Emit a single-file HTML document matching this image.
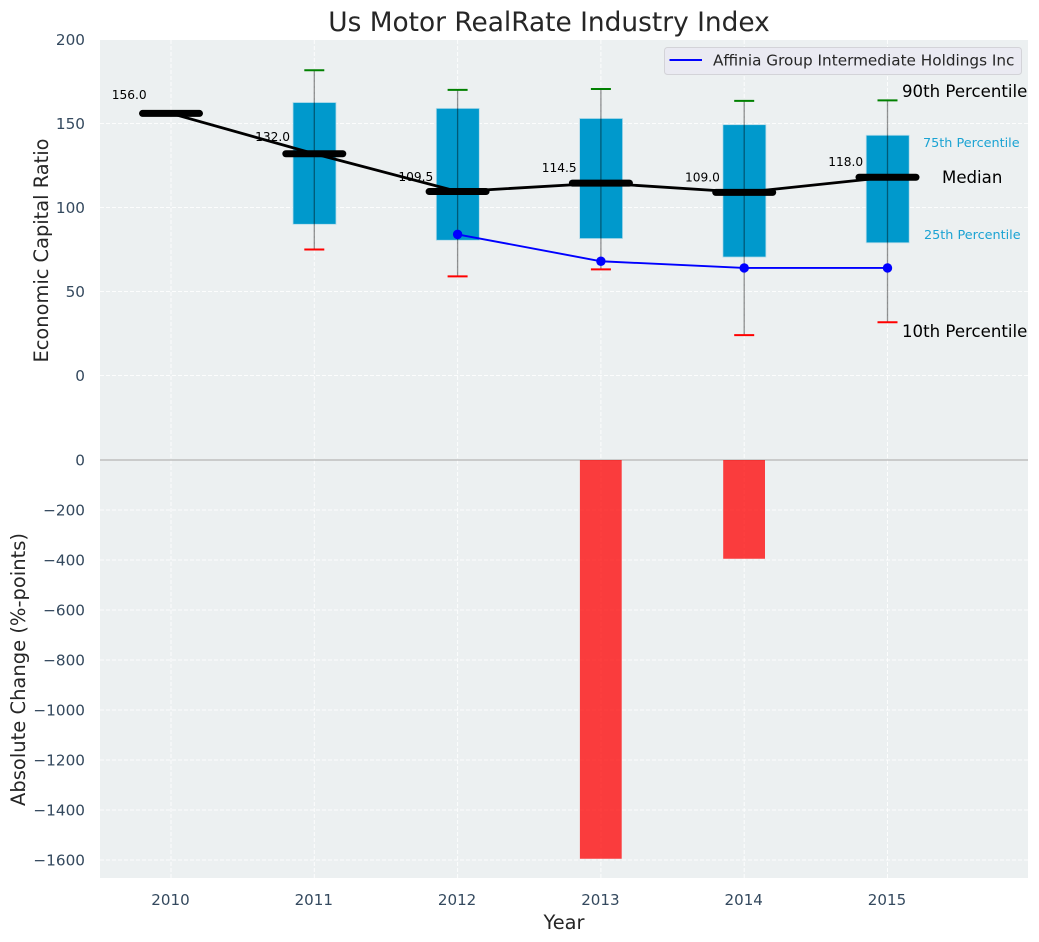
<!DOCTYPE html>
<html>
<head>
<meta charset="utf-8">
<title>Us Motor RealRate Industry Index</title>
<style>
html,body{margin:0;padding:0;background:#fff;width:1039px;height:942px;overflow:hidden}
svg{display:block}
text{font-family:"DejaVu Sans","Liberation Sans",sans-serif}
</style>
</head>
<body>
<svg id="chart" xmlns="http://www.w3.org/2000/svg" width="1039" height="942" viewBox="0 0 1039 942">
  <rect x="100" y="40" width="928" height="420" fill="#ecf0f1"/>
  <rect x="100" y="460" width="928" height="418" fill="#ecf0f1"/>
  <g id="grid"></g>
  <g id="marks"></g>
  <g id="ticks"></g>
  <text x="549" y="31" font-size="26.4" fill="#262626" text-anchor="middle">Us Motor RealRate Industry Index</text>
  <text x="564" y="929" font-size="19.4" fill="#262626" text-anchor="middle">Year</text>
  <text transform="translate(48,250.5) rotate(-90)" font-size="19.4" fill="#262626" text-anchor="middle">Economic Capital Ratio</text>
  <text transform="translate(25,669.5) rotate(-90)" font-size="19.5" fill="#262626" text-anchor="middle">Absolute Change (%-points)</text>
  <g>
    <rect x="664.5" y="47.5" width="357" height="27" rx="3" fill="#eaeaf2" stroke="#d3d3d8" stroke-width="1"/>
    <line x1="669.5" y1="60" x2="702" y2="60" stroke="#0000ff" stroke-width="2"/>
    <text x="713" y="65.5" font-size="15.25" fill="#262626">Affinia Group Intermediate Holdings Inc</text>
  </g>
  <g>
    <text x="902" y="97" font-size="16.6" fill="#000">90th Percentile</text>
    <text x="923" y="147" font-size="12.8" fill="#1ba3d3">75th Percentile</text>
    <text x="942" y="183" font-size="16.6" fill="#000">Median</text>
    <text x="924" y="239" font-size="12.8" fill="#1ba3d3">25th Percentile</text>
    <text x="902" y="337" font-size="16.6" fill="#000">10th Percentile</text>
  </g>
</svg>
<script>
var years = [2010, 2011, 2012, 2013, 2014, 2015];
var medians = [156, 132, 109.5, 114.5, 109, 118];
var p90 = [null, 181.7, 170, 170.5, 163.5, 163.8];
var p75 = [null, 162.5, 159, 153, 149.3, 143];
var p25 = [null, 90, 80.5, 81.5, 70.5, 79];
var p10 = [null, 75, 59, 63.2, 24, 31.7];
var companyValues = [null, null, 84, 68, 64, 64];
var changeValues = [null, null, null, -1595, -395, null];
var upperTicks = [0, 50, 100, 150, 200];
var lowerTicks = [0, -200, -400, -600, -800, -1000, -1200, -1400, -1600];

var NS = 'http://www.w3.org/2000/svg';
function x(v) { return 171 + (v - 2010) * 143.3; }
function yU(v) { return 375.5 - v * 1.68; }
function yL(v) { return 460 + (-v) * 0.25; }
function mk(parent, tag, attrs, txt) {
  var el = document.createElementNS(NS, tag);
  for (var k in attrs) el.setAttribute(k, attrs[k]);
  if (txt !== undefined) el.textContent = txt;
  parent.appendChild(el);
  return el;
}
function fmtTick(v) { return v < 0 ? '\u2212' + Math.abs(v) : String(v); }

var grid = document.getElementById('grid');
var marks = document.getElementById('marks');
var ticks = document.getElementById('ticks');
var gridStyle = { stroke: '#ffffff', 'stroke-width': 1, 'stroke-dasharray': '4 2', 'stroke-opacity': 0.85 };
function gridLine(x1, y1, x2, y2) {
  var a = { x1: x1, y1: y1, x2: x2, y2: y2 };
  for (var k in gridStyle) a[k] = gridStyle[k];
  return mk(grid, 'line', a);
}

years.forEach(function (yr) {
  var vg = gridLine(x(yr), 40, x(yr), 878);
  
  
  var t = mk(ticks, 'text', { x: x(yr) - 0.5, y: 905, 'font-size': 15.1, fill: '#34495e', 'text-anchor': 'middle' }, String(yr));
  
  
});
upperTicks.forEach(function (v) {
  var g = gridLine(100, yU(v), 1028, yU(v));
  
  
  var t = mk(ticks, 'text', { x: 85, y: yU(v) + 5.5, 'font-size': 15.25, fill: '#34495e', 'text-anchor': 'end' }, fmtTick(v));
  
  
});
lowerTicks.forEach(function (v) {
  var g = gridLine(100, yL(v), 1028, yL(v));
  
  
  var t = mk(ticks, 'text', { x: 85, y: yL(v) + 5.5, 'font-size': 15.25, fill: '#34495e', 'text-anchor': 'end' }, fmtTick(v));
  
  
});

var zero = mk(marks, 'line', { x1: 100, y1: yL(0), x2: 1028, y2: yL(0), stroke: '#b5b5b5', 'stroke-width': 1.2 });



/* change bars */
years.forEach(function (yr, i) {
  if (changeValues[i] === null) return;
  var b = mk(marks, 'rect', { x: x(yr) - 21, y: yL(0), width: 41.8, height: yL(changeValues[i]) - yL(0), fill: '#ff0000', 'fill-opacity': 0.75 });
  
  
});

/* percentile boxes */
years.forEach(function (yr, i) {
  if (p75[i] === null) return;
  var b = mk(marks, 'rect', { x: x(yr) - 21.3, y: yU(p75[i]), width: 43, height: yU(p25[i]) - yU(p75[i]), fill: '#0099cc', stroke: '#b6dcea', 'stroke-width': 0.8 });
  
  
});

/* whiskers */
years.forEach(function (yr, i) {
  if (p90[i] === null) return;
  var w = mk(marks, 'line', { x1: x(yr), y1: yU(p90[i]), x2: x(yr), y2: yU(p10[i]), stroke: '#000', 'stroke-opacity': 0.42, 'stroke-width': 1.3 });
  
  
  var c1 = mk(marks, 'line', { x1: x(yr) - 10, y1: yU(p90[i]), x2: x(yr) + 10, y2: yU(p90[i]), stroke: '#008000', 'stroke-width': 2 });
  
  
  var c2 = mk(marks, 'line', { x1: x(yr) - 10, y1: yU(p10[i]), x2: x(yr) + 10, y2: yU(p10[i]), stroke: '#ff0000', 'stroke-width': 2 });
  
  
});

/* company series */
var cPts = [];
years.forEach(function (yr, i) {
  if (companyValues[i] !== null) cPts.push(x(yr) + ',' + yU(companyValues[i]));
});
var cLine = mk(marks, 'polyline', { points: cPts.join(' '), fill: 'none', stroke: '#0000ff', 'stroke-width': 1.9 });


years.forEach(function (yr, i) {
  if (companyValues[i] === null) return;
  var d = mk(marks, 'circle', { cx: x(yr), cy: yU(companyValues[i]), r: 4.7, fill: '#0000ff' });
  
  
});

/* median labels sit 5% above the median, under the median line */
years.forEach(function (yr, i) {
  var t = mk(marks, 'text', { x: x(yr) - 59.2, y: yU(medians[i] * 1.05) - 1.5, 'font-size': 12.2, fill: '#000' }, medians[i].toFixed(1));
  
  
});

/* median trend */
var mPts = years.map(function (yr, i) { return x(yr) + ',' + yU(medians[i]); }).join(' ');
var mLine = mk(marks, 'polyline', { points: mPts, fill: 'none', stroke: '#000', 'stroke-width': 2.8, 'stroke-linejoin': 'round' });


years.forEach(function (yr, i) {
  var m = mk(marks, 'line', { x1: x(yr) - 28.5, y1: yU(medians[i]), x2: x(yr) + 28.5, y2: yU(medians[i]), stroke: '#000', 'stroke-width': 7, 'stroke-linecap': 'round' });
  
  
});
</script>
</body>
</html>
